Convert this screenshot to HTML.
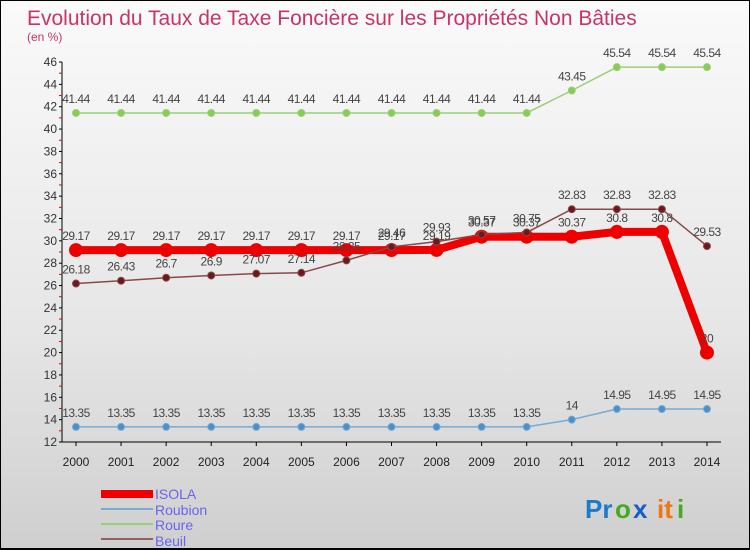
<!DOCTYPE html>
<html><head><meta charset="utf-8"><style>
body{margin:0;}
#c{width:750px;height:550px;position:relative;background:linear-gradient(#fafafa,#e6e6e6 60%,#cfcfcf);box-sizing:border-box;border:1px solid #000;border-bottom:2px solid #000;overflow:hidden;font-family:"Liberation Sans",sans-serif;}
</style></head><body>
<div id="c">
<svg width="750" height="550" style="position:absolute;left:0;top:0" id="svg">
<text x="26" y="24" font-size="21" fill="#c8336a">Evolution du Taux de Taxe Foncière sur les Propriétés Non Bâties</text>
<text x="26" y="40" font-size="12" fill="#c8336a">(en %)</text>
<g id="axes"></g><g id="series"></g>
<g>
<rect x="100" y="489" width="52" height="8" fill="#e00"/>
<text x="154" y="498" font-size="14" fill="#6666ee">ISOLA</text>
<line x1="100" y1="508" x2="152" y2="508" stroke="#7aaad0" stroke-width="2"/>
<text x="154" y="514" font-size="14" fill="#6666ee">Roubion</text>
<line x1="100" y1="523" x2="152" y2="523" stroke="#99d077" stroke-width="2"/>
<text x="154" y="529" font-size="14" fill="#6666ee">Roure</text>
<line x1="100" y1="538" x2="152" y2="538" stroke="#906060" stroke-width="2"/>
<text x="154" y="545" font-size="14" fill="#6666ee">Beuil</text>
</g>
<g font-size="26" font-weight="bold">
<text x="584" y="517" fill="#1a7acc">Pr</text><text x="614" y="517" fill="#44aa22">o</text><text x="632" y="517" fill="#1a5acc">x</text><text x="656" y="517" fill="#ee7711">it</text><text x="676" y="517" fill="#44aa22">i</text>
</g>
</svg>
</div>
<script>
const years=[2000,2001,2002,2003,2004,2005,2006,2007,2008,2009,2010,2011,2012,2013,2014];
const isola=[29.17,29.17,29.17,29.17,29.17,29.17,29.17,29.17,29.19,30.37,30.37,30.37,30.8,30.8,20];
const roubion=[13.35,13.35,13.35,13.35,13.35,13.35,13.35,13.35,13.35,13.35,13.35,14,14.95,14.95,14.95];
const roure=[41.44,41.44,41.44,41.44,41.44,41.44,41.44,41.44,41.44,41.44,41.44,43.45,45.54,45.54,45.54];
const beuil=[26.18,26.43,26.7,26.9,27.07,27.14,28.25,29.46,29.93,30.57,30.75,32.83,32.83,32.83,29.53];
const yTicks=[12,14,16,18,20,22,24,26,28,30,32,34,36,38,40,42,44,46];
const NS="http://www.w3.org/2000/svg";
const X=i=>75+i*45.07, Y=v=>441-(v-12)*11.176;
function mk(t,a,p){const e=document.createElementNS(NS,t);for(const k in a)e.setAttribute(k,a[k]);p.appendChild(e);return e;}
const ax=document.getElementById('axes'), sg=document.getElementById('series');
const yl=mk('line',{x1:61,y1:61,x2:61,y2:441,stroke:'#000'},ax);


const xl=mk('line',{x1:61,y1:441,x2:720,y2:441,stroke:'#000'},ax);


yTicks.forEach(v=>{
  mk('line',{x1:58,y1:Y(v),x2:61,y2:Y(v),stroke:'#000'},ax);
  if(v<46)mk('line',{x1:58,y1:Y(v+1),x2:61,y2:Y(v+1),stroke:'#e00'},ax);
  const t=mk('text',{x:56,y:Y(v)+4,'font-size':12,'text-anchor':'end',fill:'#333'},ax);t.textContent=v;
  
  
});
years.forEach((y,i)=>{
  mk('line',{x1:X(i),y1:441,x2:X(i),y2:445,stroke:'#000'},ax);
  const t=mk('text',{x:X(i),y:465,'font-size':12,'text-anchor':'middle',fill:'#222'},ax);t.textContent=y;
  
  
});
function series(name,vals,col,dot,w,r){
  const g=mk('g',{},sg);
  
  
  mk('polyline',{points:vals.map((v,i)=>X(i)+','+Y(v)).join(' '),fill:'none',stroke:col,'stroke-width':w},g);
  vals.forEach((v,i)=>{
    const c=mk('circle',{cx:X(i),cy:Y(v),r:r,fill:dot,stroke:col,'stroke-width':1},g);
    
    
    const t=mk('text',{x:X(i),y:Y(v)-10,'font-size':12,'text-anchor':'middle',fill:'#444','letter-spacing':'-0.5'},g);t.textContent=v;
    
    
  });
}
series('roure',roure,'#99d077','#88cc55',1.5,3.5);
series('roubion',roubion,'#7aaad0','#4a90cc',1.5,3.5);
series('isola',isola,'#ee0000','#ee0000',8,6.5);
series('beuil',beuil,'#8a4848','#6a1a1a',1.5,3.5);
</script>
</body></html>
